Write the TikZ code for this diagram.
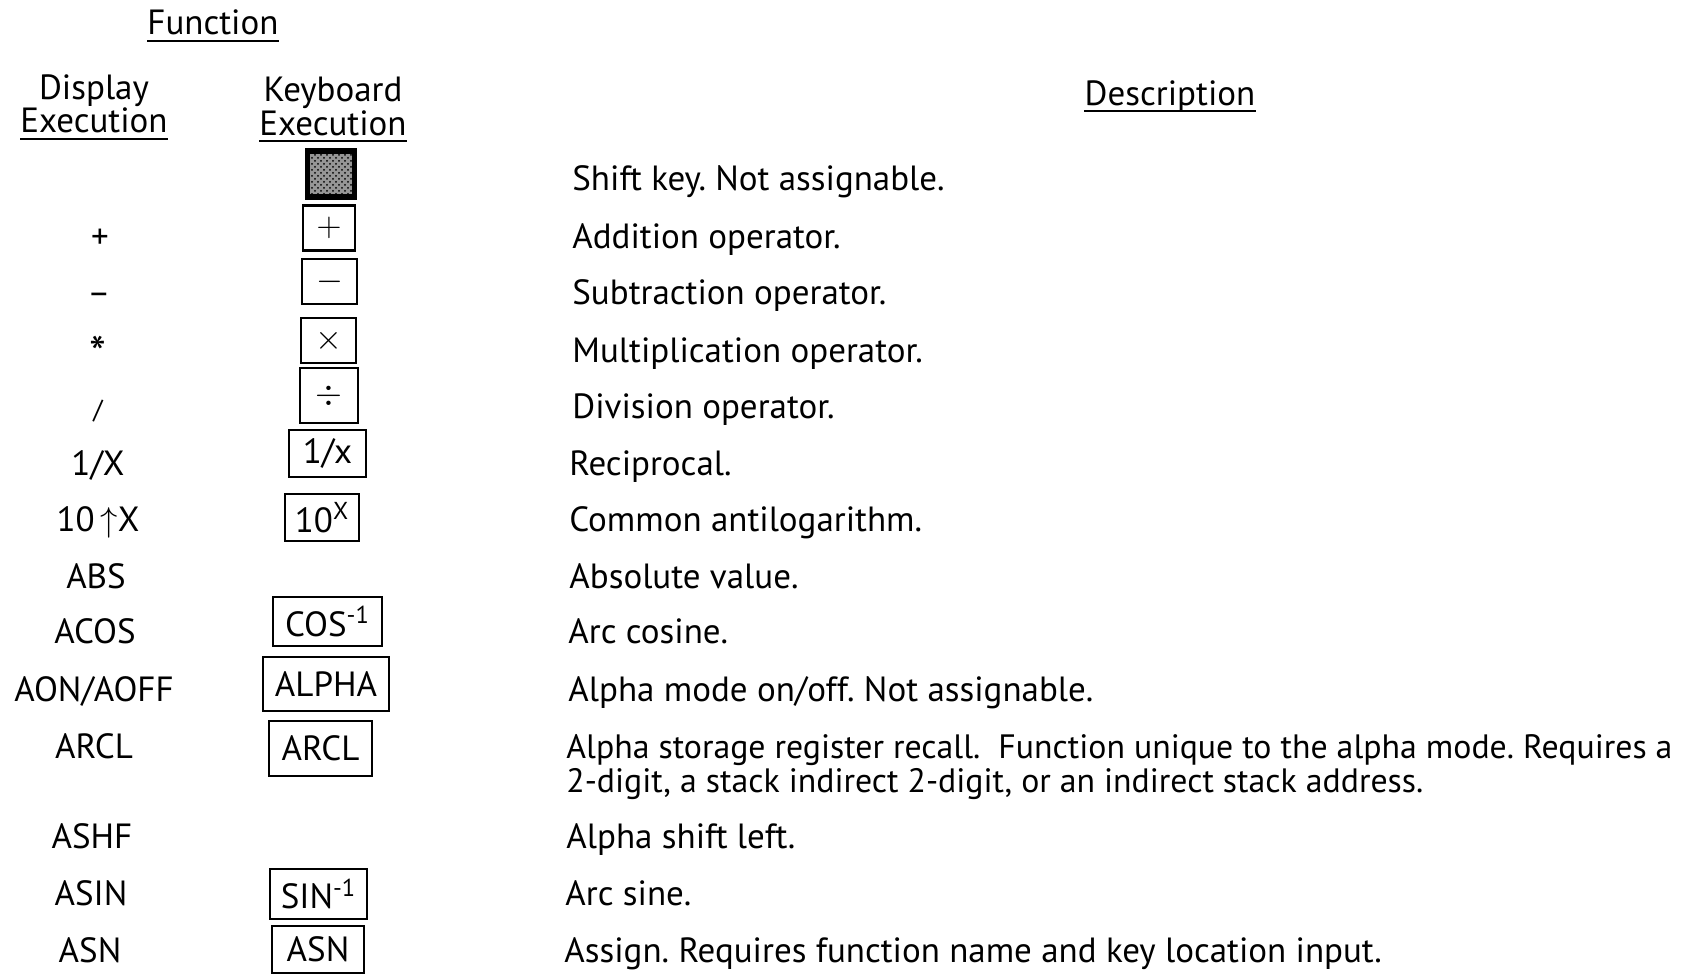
\documentclass[tikz,border=0pt]{standalone}
\usepackage{fontspec}
\setmainfont{PT Sans}
\usepackage{xcolor}
\usetikzlibrary{patterns}
\definecolor{shiftgray}{RGB}{150,150,150}
\frenchspacing

\tikzset{
  head/.style={anchor=base, inner sep=0pt, font=\fontsize{17.5}{20}\selectfont},
  uline/.style={line width=1.1pt},
  disp/.style={anchor=base, inner sep=0pt, font=\fontsize{17.5}{20}\selectfont},
  desc/.style={anchor=base west, inner sep=0pt, font=\fontsize{17.5}{20}\selectfont},
  keybox/.style={draw, line width=1.1pt, inner sep=0pt, font=\fontsize{17.5}{20}\selectfont},
  shiftbox/.style={draw, preaction={fill=shiftgray}, pattern=crosshatch dots, line width=2.6pt, inner sep=0pt}
}

\begin{document}
\begin{tikzpicture}[x=0.5pt, y=-0.5pt]
  \useasboundingbox (0,0) rectangle (1703,974);

  % Headings
  \node[head] (hfun) at (213,35) {Function};
  \node[head] (hdisp) at (94,100) {Display};
  \node[head] (hdispx) at (94,133) {Execution};
  \node[head] (hkey) at (333,102) {Keyboard};
  \node[head] (hkeyx) at (333,135) {Execution};
  \node[head] (hdesc) at (1170,105) {Description};
  \foreach \h in {hfun,hdispx,hkeyx,hdesc}
    \draw[uline] ([yshift=-3pt]\h.base west) -- ([yshift=-3pt]\h.base east);

  % Shift key
  \node[shiftbox, minimum width=23.5pt, minimum height=23pt] (kshift) at (331,174) {};
  \node[desc] (tshift) at (572,191) {Shift key. Not assignable.};

  % Operators
  \node[disp] (dplus) at (100,248) {+};
  \node[keybox, minimum width=26pt, minimum height=22.5pt] (kplus) at (329,228) {$+$};
  \node[desc] (tplus) at (572,248) {Addition operator.};

  \node[disp] (dminus) at (99,304) {--};
  \node[keybox, minimum width=27.5pt, minimum height=22.5pt] (kminus) at (329.5,281.5) {$-$};
  \node[desc] (tminus) at (572,304) {Subtraction operator.};

  \node[disp] (dtimes) at (98,362) {\raisebox{-4pt}{\fontsize{24}{24}\selectfont *}};
  \node[keybox, minimum width=27.5pt, minimum height=22.5pt] (ktimes) at (328.5,340.5) {$\times$};
  \node[desc] (ttimes) at (572,362) {Multiplication operator.};

  \node[disp] (ddiv) at (98,418) {\fontsize{13}{13}\selectfont /};
  \node[keybox, minimum width=29pt, minimum height=27.5pt] (kdiv) at (329,395.5) {$\div$};
  \node[desc] (tdiv) at (572,418) {Division operator.};

  % Functions
  \node[disp] (drecip) at (98,475) {1/X};
  \node[keybox, minimum width=38.5pt, minimum height=23.5pt] (krecip) at (327.5,453.5) {1/x};
  \node[desc] (trecip) at (569,475) {Reciprocal.};

  \node[disp] (dten) at (98,531) {10$\,\uparrow$X};
  \node[keybox, minimum width=37pt, minimum height=23.5pt] (kten) at (322,517.5) {10\textsuperscript{X}};
  \node[desc] (tten) at (569,531) {Common antilogarithm.};

  \node[disp] (dabs) at (96,588) {ABS};
  \node[desc] (tabs) at (569,588) {Absolute value.};

  \node[disp] (dacos) at (95,643) {ACOS};
  \node[keybox, minimum width=54.5pt, minimum height=24.5pt] (kacos) at (327.5,621.5) {COS\textsuperscript{-1}};
  \node[desc] (tacos) at (568,643) {Arc cosine.};

  \node[disp] (daon) at (94,701) {AON/AOFF};
  \node[keybox, minimum width=63pt, minimum height=27pt] (kalpha) at (326,684) {ALPHA};
  \node[desc] (taon) at (568,701) {Alpha mode on/off. Not assignable.};

  \node[disp] (darcl) at (94,758) {ARCL};
  \node[keybox, minimum width=51.5pt, minimum height=27.5pt] (karcl) at (320.5,748.5) {ARCL};
  \node[desc, font=\fontsize{16.9}{20}\selectfont] (tarcl) at (566,758) {Alpha storage register recall.\ \ Function unique to the alpha mode. Requires a};
  \node[desc, font=\fontsize{16.9}{20}\selectfont] (tarclb) at (566,792) {2-digit, a stack indirect 2-digit, or an indirect stack address.};

  \node[disp] (dashf) at (92,848) {ASHF};
  \node[desc] (tashf) at (566,848) {Alpha shift left.};

  \node[disp] (dasin) at (91,905) {ASIN};
  \node[keybox, minimum width=48.5pt, minimum height=25pt] (kasin) at (318.5,894) {SIN\textsuperscript{-1}};
  \node[desc] (tasin) at (565,905) {Arc sine.};

  \node[disp] (dasn) at (90,962) {ASN};
  \node[keybox, minimum width=46pt, minimum height=23.5pt] (kasn) at (318,949.5) {ASN};
  \node[desc] (tasn) at (564,962) {Assign. Requires function name and key location input.};
\end{tikzpicture}
\end{document}
